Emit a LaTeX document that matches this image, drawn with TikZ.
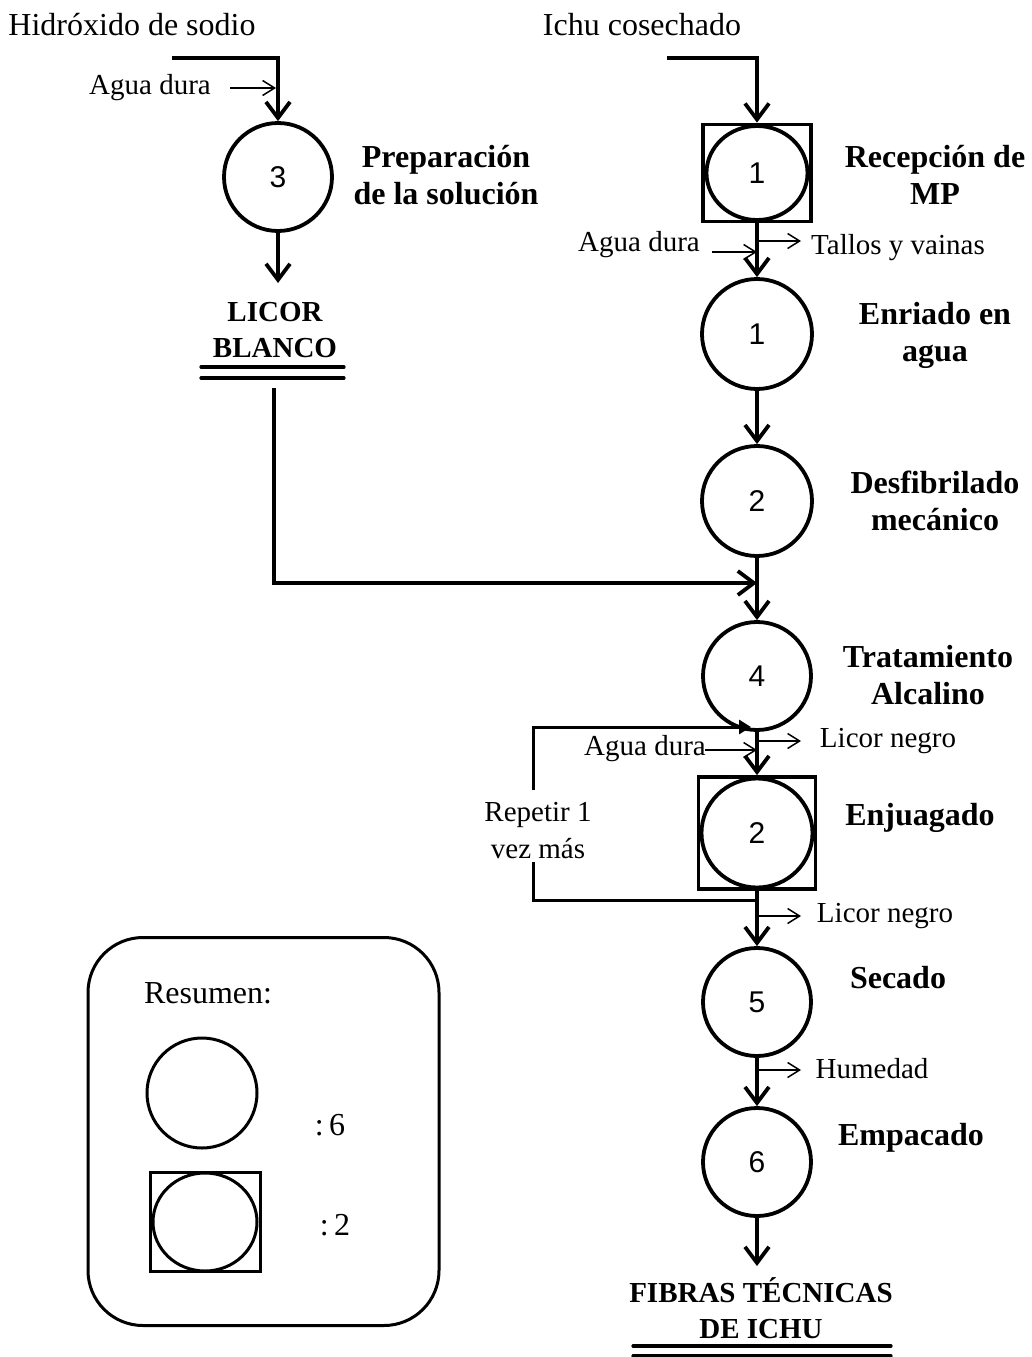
\documentclass[tikz,border=0pt]{standalone}
\usepackage{fontspec}
\setmainfont{Liberation Serif}
\newfontfamily\numfont{Liberation Sans}
\usetikzlibrary{arrows.meta,shapes.geometric}
\begin{document}
\begin{tikzpicture}[x=1pt,y=-1pt,
  txt/.style={inner sep=0pt,font=\fontsize{32}{36}\selectfont},
  sml/.style={inner sep=0pt,align=center,font=\fontsize{29}{37}\selectfont},
  bld/.style={inner sep=0pt,align=center,font=\fontsize{32}{37}\selectfont\bfseries},
  outtxt/.style={inner sep=0pt,align=center,font=\fontsize{29}{36}\selectfont\bfseries},
  proc/.style={circle,draw,line width=3.8pt,minimum size=108pt,inner sep=0pt,font=\numfont\fontsize{30}{36}\selectfont},
  combo/.style={ellipse,draw,line width=3.8pt,inner sep=0pt,font=\numfont\fontsize{30}{36}\selectfont},
  sqbox/.style={rectangle,draw,line width=3.8pt,inner sep=0pt},
  flow/.style={line width=3.8pt,-{Straight Barb[length=16pt,width=24pt]}},
  flowline/.style={line width=3.8pt},
  sidearrow/.style={line width=1.5pt,-{Straight Barb[length=12pt,width=15pt]}},
  dblline/.style={line width=3.2pt,line cap=round},
]
\useasboundingbox (0,0) rectangle (1031,1357);

% ---------------- left branch ----------------
\node[txt] (naoh) at (132,25) {Hidróxido de sodio};
\coordinate (naohin) at (172,58);
\node[proc] (p3) at (278,177) {3};
\draw[flow] (naohin) -| (p3.north);
\node[sml] (agua0) at (150,88) {Agua dura};
\coordinate (a0s) at (230,88);
\coordinate (a0e) at (276,88);
\draw[sidearrow] (a0s) -- (a0e);
\node[bld] (lprep) at (446,175) {Preparación\\de la solución};
\node[outtxt] (lb) at (275,330) {LICOR\\BLANCO};
\coordinate (lbtop) at (278,283);
\draw[flow] (p3.south) -- (lbtop);
\coordinate (lbl1a) at (201,367); \coordinate (lbl1b) at (344,367);
\coordinate (lbl2a) at (201,378); \coordinate (lbl2b) at (344,378);
\draw[dblline] (lbl1a) -- (lbl1b);
\draw[dblline] (lbl2a) -- (lbl2b);
\coordinate (lbout) at (274,388);

% ---------------- main column ----------------
\node[txt] (ichu) at (642,25) {Ichu cosechado};
\coordinate (ichuin) at (667,58);
\node[sqbox,minimum width=108pt,minimum height=97pt] (recbox) at (757,173) {};
\node[combo,minimum width=101pt,minimum height=94pt] (rec) at (757,173) {1};
\draw[flow] (ichuin) -| (recbox.north);
\node[bld] (lrec) at (935,175) {Recepción de\\MP};

\node[proc,minimum size=110pt] (enr) at (757,334) {1};
\draw[flow] (recbox.south) -- (enr.north);
\node[sml] (agua1) at (639,245) {Agua dura};
\coordinate (a1s) at (712,252); \coordinate (a1e) at (757,252);
\draw[sidearrow] (a1s) -- (a1e);
\node[sml] (tallos) at (898,248) {Tallos y vainas};
\coordinate (t1s) at (757,241); \coordinate (t1e) at (801,241);
\draw[sidearrow] (t1s) -- (t1e);
\node[bld] (lenr) at (935,335) {Enriado en\\agua};

\node[proc,minimum size=110pt] (des) at (757,501) {2};
\draw[flow] (enr.south) -- (des.north);
\node[bld] (ldes) at (935,501) {Desfibrilado\\mecánico};

\node[proc,minimum size=108pt] (trat) at (757,676) {4};
\draw[flow] (des.south) -- (trat.north);
\coordinate (lbin) at (757,583);
\draw[flow] (lbout) |- (lbin);
\node[bld] (ltrat) at (928,675) {Tratamiento\\Alcalino};

\node[sqbox,minimum width=117pt,minimum height=112pt] (enjbox) at (757,833) {};
\node[combo,minimum width=111pt,minimum height=109pt] (enj) at (757,833) {2};
\draw[flow] (trat.south) -- (enjbox.north);
\node[sml] (agua2) at (645,749) {Agua dura};
\coordinate (a2s) at (705,750); \coordinate (a2e) at (757,750);
\draw[sidearrow] (a2s) -- (a2e);
\node[sml] (ln1) at (888,741) {Licor negro};
\coordinate (n1s) at (757,741); \coordinate (n1e) at (801,741);
\draw[sidearrow] (n1s) -- (n1e);
\node[bld] (lenj) at (920,818) {Enjuagado};

% loop
\node[sml] (rep) at (538,831) {Repetir 1\\vez más};
\coordinate (lpa) at (757,900);
\coordinate (lpb) at (533,900);
\coordinate (lpc) at (533,862);
\coordinate (lpd) at (533,790);
\coordinate (lpe) at (533,727);
\coordinate (lpf) at (751,727);
\draw[line width=3pt] (lpa) -- (lpb) -- (lpc);
\draw[line width=3pt,-{Triangle[length=12pt,width=14pt]}] (lpd) -- (lpe) -- (lpf);

\node[proc,minimum size=108pt] (sec) at (757,1002) {5};
\draw[flow] (enjbox.south) -- (sec.north);
\node[sml] (ln2) at (885,916) {Licor negro};
\coordinate (n2s) at (757,916); \coordinate (n2e) at (801,916);
\draw[sidearrow] (n2s) -- (n2e);
\node[bld] (lsec) at (898,978) {Secado};

\node[proc,minimum size=108pt] (emp) at (757,1162) {6};
\draw[flow] (sec.south) -- (emp.north);
\node[sml] (hum) at (872,1069) {Humedad};
\coordinate (h1s) at (757,1070); \coordinate (h1e) at (801,1070);
\draw[sidearrow] (h1s) -- (h1e);
\node[bld] (lemp) at (911,1138) {Empacado};

\node[outtxt] (fib) at (761,1308) {FIBRAS TÉCNICAS\\DE ICHU};
\coordinate (fibtop) at (757,1266);
\draw[flow] (emp.south) -- (fibtop);
\coordinate (fl1a) at (633,1346); \coordinate (fl1b) at (891,1346);
\coordinate (fl2a) at (633,1356); \coordinate (fl2b) at (891,1356);
\draw[dblline] (fl1a) -- (fl1b);
\draw[dblline] (fl2a) -- (fl2b);

% ---------------- legend ----------------
\node[draw,line width=3pt,rounded corners=55pt,minimum width=351pt,minimum height=388pt] (leg) at (263.5,1131.5) {};
\node[txt] (res) at (208,993) {Resumen:};
\node[circle,draw,line width=3pt,minimum size=110pt,inner sep=0pt] (lcirc) at (202,1093) {};
\node[sqbox,line width=3pt,minimum width=110pt,minimum height=99pt] (lsq) at (205,1222) {};
\node[ellipse,draw,line width=3pt,minimum width=104pt,minimum height=98pt,inner sep=0pt] (lell) at (205,1222) {};
\node[txt] (n6) at (330,1125) {:\,6};
\node[txt] (n2) at (335,1225) {:\,2};
\end{tikzpicture}
\end{document}
